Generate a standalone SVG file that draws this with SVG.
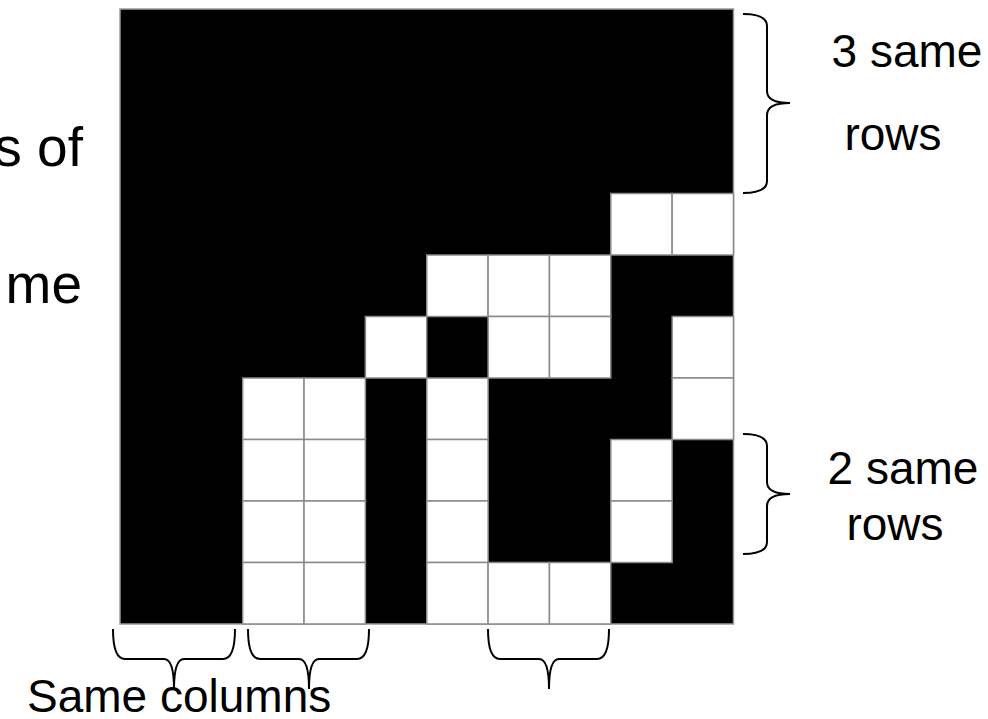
<svg xmlns="http://www.w3.org/2000/svg" xmlns:xlink="http://www.w3.org/1999/xlink" width="988" height="719" viewBox="0 0 988 719">
<style>
.t{font-family:"Liberation Sans",Arial,sans-serif;font-size:46px;fill:#000}
.tl{font-family:"Liberation Sans",Arial,sans-serif;font-size:55px;fill:#000}
.w{fill:#fff;stroke:#8a8a8a;stroke-width:1.5}
.br{fill:none;stroke:#000;stroke-width:2}
</style>
<defs>
<rect id="w" width="61.35" height="61.5" class="w"/>
</defs>
<rect width="988" height="719" fill="#fff"/>
<g id="labels-left">
<text class="tl" x="83" y="166" text-anchor="end">s of</text>
<text class="tl" x="82" y="303" text-anchor="end">me</text>
</g>
<g id="grid">
<rect x="120" y="9" width="613.5" height="615" fill="#000" stroke="#9a9a9a" stroke-width="1.5"/>
<use xlink:href="#w" x="610.8" y="193.5"/><use xlink:href="#w" x="672.15" y="193.5"/>
<use xlink:href="#w" x="426.75" y="255"/><use xlink:href="#w" x="488.1" y="255"/><use xlink:href="#w" x="549.45" y="255"/>
<use xlink:href="#w" x="365.4" y="316.5"/><use xlink:href="#w" x="488.1" y="316.5"/><use xlink:href="#w" x="549.45" y="316.5"/><use xlink:href="#w" x="672.15" y="316.5"/>
<use xlink:href="#w" x="242.7" y="378"/><use xlink:href="#w" x="304.05" y="378"/><use xlink:href="#w" x="426.75" y="378"/><use xlink:href="#w" x="672.15" y="378"/>
<use xlink:href="#w" x="242.7" y="439.5"/><use xlink:href="#w" x="304.05" y="439.5"/><use xlink:href="#w" x="426.75" y="439.5"/><use xlink:href="#w" x="610.8" y="439.5"/>
<use xlink:href="#w" x="242.7" y="501"/><use xlink:href="#w" x="304.05" y="501"/><use xlink:href="#w" x="426.75" y="501"/><use xlink:href="#w" x="610.8" y="501"/>
<use xlink:href="#w" x="242.7" y="562.5"/><use xlink:href="#w" x="304.05" y="562.5"/><use xlink:href="#w" x="426.75" y="562.5"/><use xlink:href="#w" x="488.1" y="562.5"/><use xlink:href="#w" x="549.45" y="562.5"/>
</g>
<g id="connectors">
<path class="br" d="M743 14 Q767 14 767 26 L767 91 Q767 103 790 103 Q767 103 767 115 L767 181 Q767 193 743 193"/>
<path class="br" d="M743 434 Q767 434 767 446 L767 482 Q767 494 790 494 Q767 494 767 506 L767 542 Q767 554 743 554"/>
<path class="br" d="M113 629 Q113 659 125 659 L164 659 Q174 659 174 689 Q174 659 184 659 L223 659 Q235 659 235 629"/>
<path class="br" d="M248 629 Q248 659 260 659 L299 659 Q309 659 309 689 Q309 659 319 659 L357 659 Q369 659 369 629"/>
<path class="br" d="M488 629 Q488 659 500 659 L539 659 Q549 659 549 689 Q549 659 559 659 L597 659 Q609 659 609 629"/>
</g>
<g id="labels-right">
<text class="t" x="907" y="67" text-anchor="middle">3 same</text>
<text class="t" x="893" y="150" text-anchor="middle">rows</text>
<text class="t" x="903" y="484" text-anchor="middle">2 same</text>
<text class="t" x="895" y="540" text-anchor="middle">rows</text>
</g>
<g id="label-bottom">
<text class="t" x="27" y="712">Same columns</text>
</g>
</svg>
